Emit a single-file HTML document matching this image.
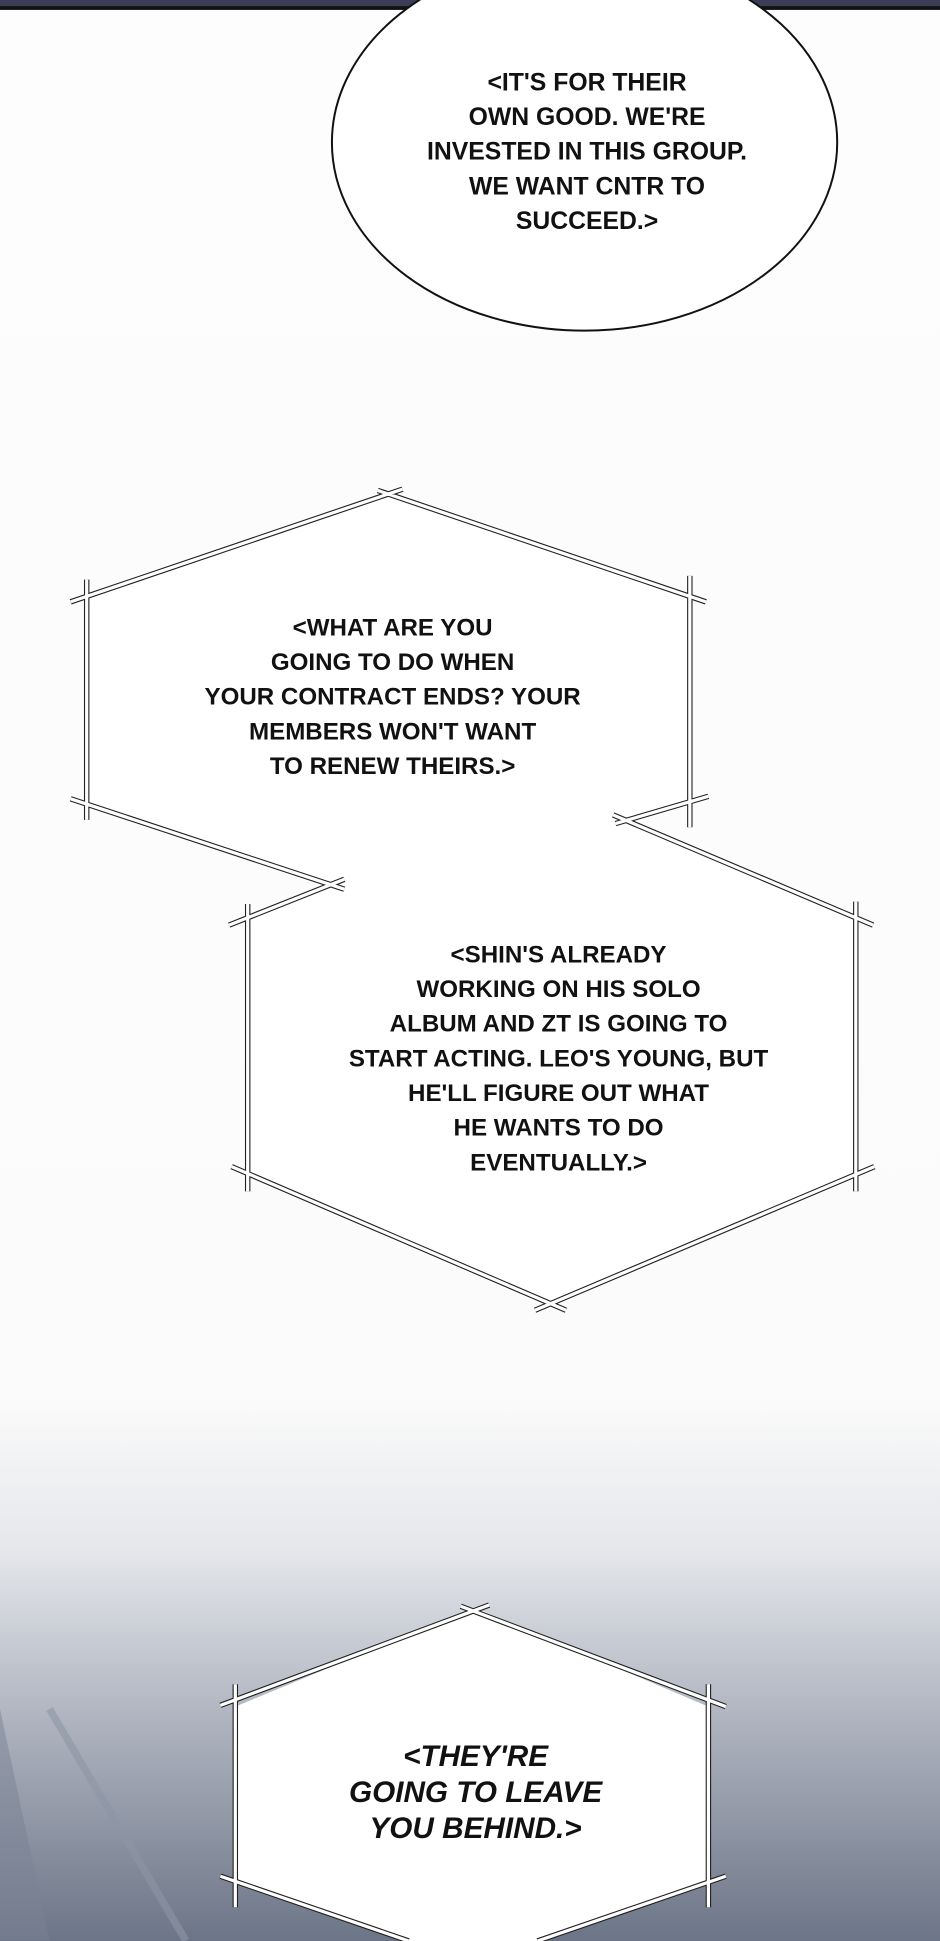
<!DOCTYPE html>
<html><head><meta charset="utf-8"><style>
html,body{margin:0;padding:0;background:#fdfdfd;}
svg{display:block;}
text{font-family:"Liberation Sans",sans-serif;font-weight:bold;fill:#111;text-anchor:middle;}
</style></head><body>
<svg width="940" height="1941" viewBox="0 0 759 1567.3" preserveAspectRatio="none">
<defs>
<linearGradient id="bg" x1="0" y1="0" x2="0" y2="1">
<stop offset="0" stop-color="#fdfdfd"/>
<stop offset="0.72" stop-color="#fbfbfb"/>
<stop offset="0.8" stop-color="#e4e6ea"/>
<stop offset="0.88" stop-color="#b2b7c2"/>
<stop offset="1" stop-color="#6c7587"/>
</linearGradient>
</defs>
<rect x="0" y="0" width="759" height="1567.3" fill="url(#bg)"/>
<rect x="0" y="0" width="759" height="7" fill="#3a3d55"/>
<rect x="0" y="5" width="759" height="3" fill="#111"/>
<polygon points="0,1380 40,1567 0,1567" fill="#7a8294" opacity="0.5"/>
<line x1="40" y1="1380" x2="150" y2="1567" stroke="#8e96a6" stroke-width="6" opacity="0.6"/>
<ellipse cx="472" cy="115" rx="204" ry="152" fill="#fff" stroke="#111" stroke-width="1.6"/>
<g font-size="20">
<text x="474" y="73">&lt;IT'S FOR THEIR</text>
<text x="474" y="101">OWN GOOD. WE'RE</text>
<text x="474" y="129">INVESTED IN THIS GROUP.</text>
<text x="474" y="157">WE WANT CNTR TO</text>
<text x="474" y="185">SUCCEED.&gt;</text>
</g>
<polygon points="70,484 315,396 557,484 557,650 315,735 70,650" fill="#fff"/>
<polygon points="200,740 445,640 691,744 691,950 444,1056 200,950" fill="#fff"/>
<polygon points="190,1378 383,1298 572,1378 572,1520 434,1567.3 330,1567.3 190,1519" fill="#fff"/>
<g stroke="#222" stroke-width="4.4" stroke-linecap="butt" fill="none">
<path d="M57,486 L325,395 M305,396 L570,486 M557,465 L557,668 M70,468 L70,662 M57,645 L278,718 M497,665 L572,643 M185,747 L278,710 M495,658 L705,747 M691,728 L691,962 M200,730 L200,962 M187,942 L457,1058 M432,1058 L706,942 M178,1377 L395,1296 M372,1297 L586,1378 M190,1360 L190,1540 M572,1360 L572,1540 M178,1515 L330,1567.3 M586,1515 L434,1567.3"/>
</g>
<g stroke="#fff" stroke-width="2.6" stroke-linecap="butt" fill="none">
<path d="M57,486 L325,395 M305,396 L570,486 M557,465 L557,668 M70,468 L70,662 M57,645 L278,718 M497,665 L572,643 M185,747 L278,710 M495,658 L705,747 M691,728 L691,962 M200,730 L200,962 M187,942 L457,1058 M432,1058 L706,942 M178,1377 L395,1296 M372,1297 L586,1378 M190,1360 L190,1540 M572,1360 L572,1540 M178,1515 L330,1567.3 M586,1515 L434,1567.3"/>
</g>
<g font-size="19.5">
<text x="317" y="513">&lt;WHAT ARE YOU</text>
<text x="317" y="541">GOING TO DO WHEN</text>
<text x="317" y="569">YOUR CONTRACT ENDS? YOUR</text>
<text x="317" y="597">MEMBERS WON'T WANT</text>
<text x="317" y="625">TO RENEW THEIRS.&gt;</text>
<text x="451" y="777">&lt;SHIN'S ALREADY</text>
<text x="451" y="805">WORKING ON HIS SOLO</text>
<text x="451" y="833">ALBUM AND ZT IS GOING TO</text>
<text x="451" y="861">START ACTING. LEO'S YOUNG, BUT</text>
<text x="451" y="889">HE'LL FIGURE OUT WHAT</text>
<text x="451" y="917">HE WANTS TO DO</text>
<text x="451" y="945">EVENTUALLY.&gt;</text>
</g>
<g font-size="24" font-style="italic">
<text x="384" y="1426">&lt;THEY'RE</text>
<text x="384" y="1455">GOING TO LEAVE</text>
<text x="384" y="1484">YOU BEHIND.&gt;</text>
</g>
</svg>
</body></html>
